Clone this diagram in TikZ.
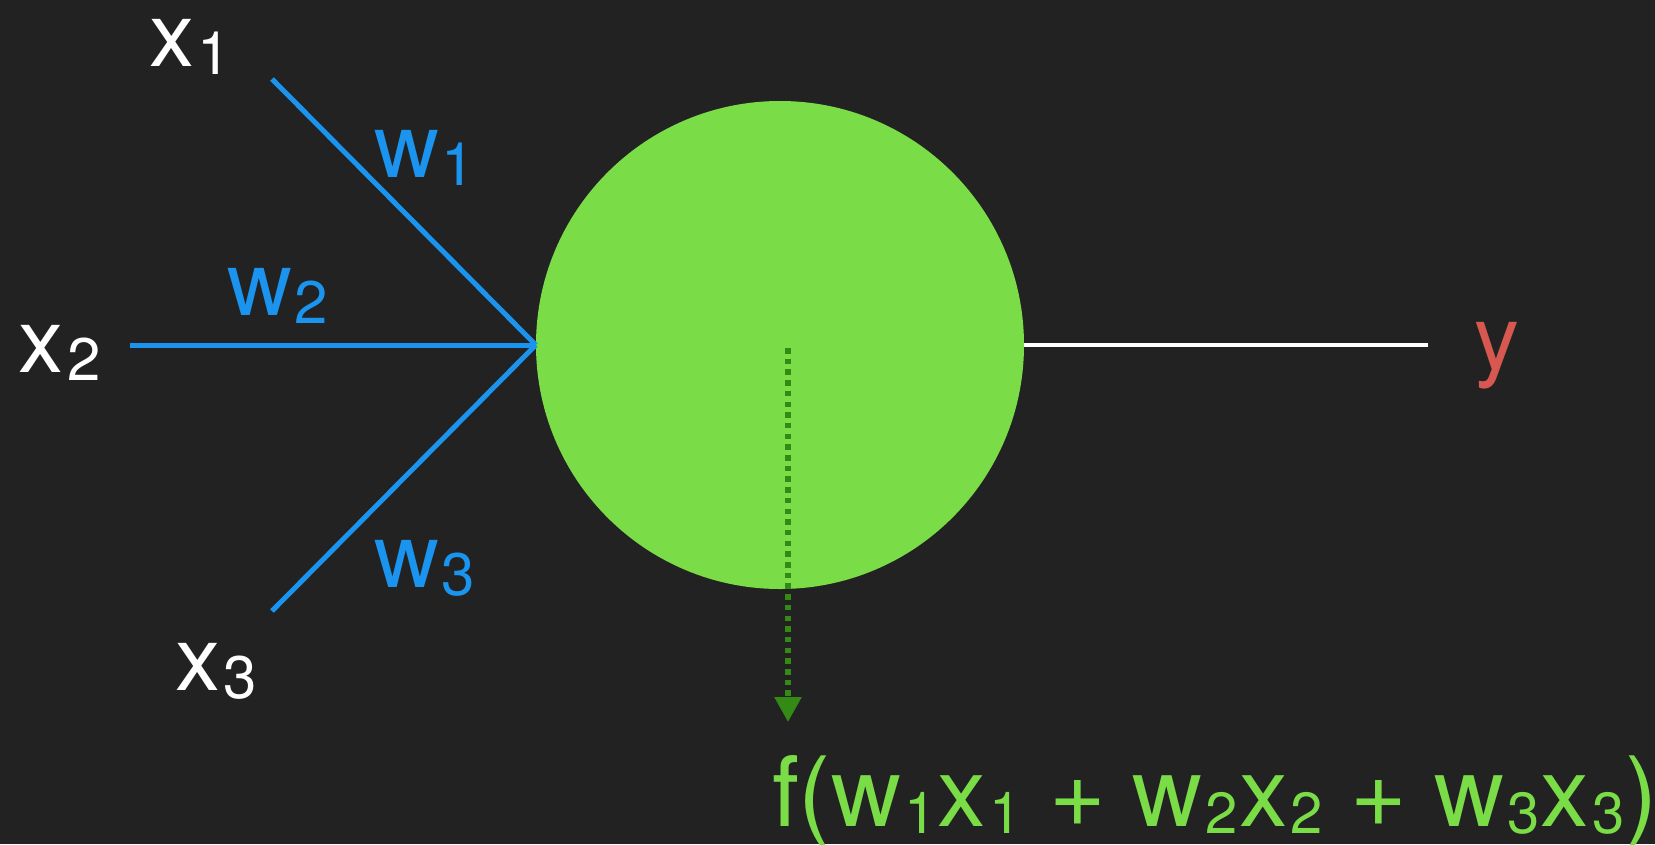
\documentclass[tikz,border=0pt]{standalone}
\usepackage{fontspec}
\setmainfont{TeX Gyre Heros}
\usetikzlibrary{arrows.meta}
\definecolor{bgc}{HTML}{222222}
\definecolor{cgreen}{HTML}{7ADC47}
\definecolor{cblue}{HTML}{1A94EE}
\definecolor{cred}{HTML}{D75850}
\definecolor{dgreen}{HTML}{338A14}
\newcommand{\lab}[2]{{\fontsize{90}{90}\selectfont #1\kern3pt\relax\raisebox{-8pt}{\fontsize{60}{60}\selectfont #2}}}
\newcommand{\fsub}[1]{\kern3pt\relax\raisebox{-7pt}{\fontsize{58}{58}\selectfont #1}\kern1pt\relax}
\begin{document}
\begin{tikzpicture}[x=1pt,y=-1pt,
  lbl/.style={anchor=base west,inner sep=0,outer sep=0},
  inline/.style={cblue,line width=5},
  outline/.style={white,line width=4.5},
  neuron/.style={circle,fill=cgreen,minimum size=488pt,inner sep=0,draw=none},
  flow/.style={dgreen,line width=5.5,dash pattern=on 5.5pt off 5.2pt,-{Triangle[width=26pt,length=25pt]}}]
\fill[bgc] (0,0) rectangle (1655,844);
\useasboundingbox (0,0) rectangle (1655,844);
\node[neuron] (n) at (780,345) {};
\coordinate (i1) at (272,79);
\coordinate (i2) at (130,345);
\coordinate (i3) at (272,611);
\coordinate (oe) at (1428,345);
\coordinate (fs) at (788,348);
\coordinate (fe) at (788,722);
\draw[inline] (i1) -- (n.west);
\draw[inline] (i2) -- (n.west);
\draw[inline] (i3) -- (n.west);
\draw[outline] (n.east) -- (oe);
\draw[flow] (fs) -- (fe);
\node[lbl,white] (x1) at (149,66) {\lab{x}{1}};
\node[lbl,white] (x2) at (19,372) {\lab{x}{2}};
\node[lbl,white] (x3) at (175,690) {\lab{x}{3}};
\node[lbl,cblue] (w1) at (374,177) {\lab{w}{1}};
\node[lbl,cblue] (w2) at (227,315) {\lab{w}{2}};
\node[lbl,cblue] (w3) at (374,587) {\lab{w}{3}};
\node[lbl,cred] (y) at (1474,369) {\lab{y}{}};
\node[lbl,cgreen] (f) at (772,826) {\fontsize{97}{97}\selectfont f(w\fsub{1}x\fsub{1} + w\fsub{2}x\fsub{2} + w\fsub{3}x\fsub{3})};
\end{tikzpicture}
\end{document}
